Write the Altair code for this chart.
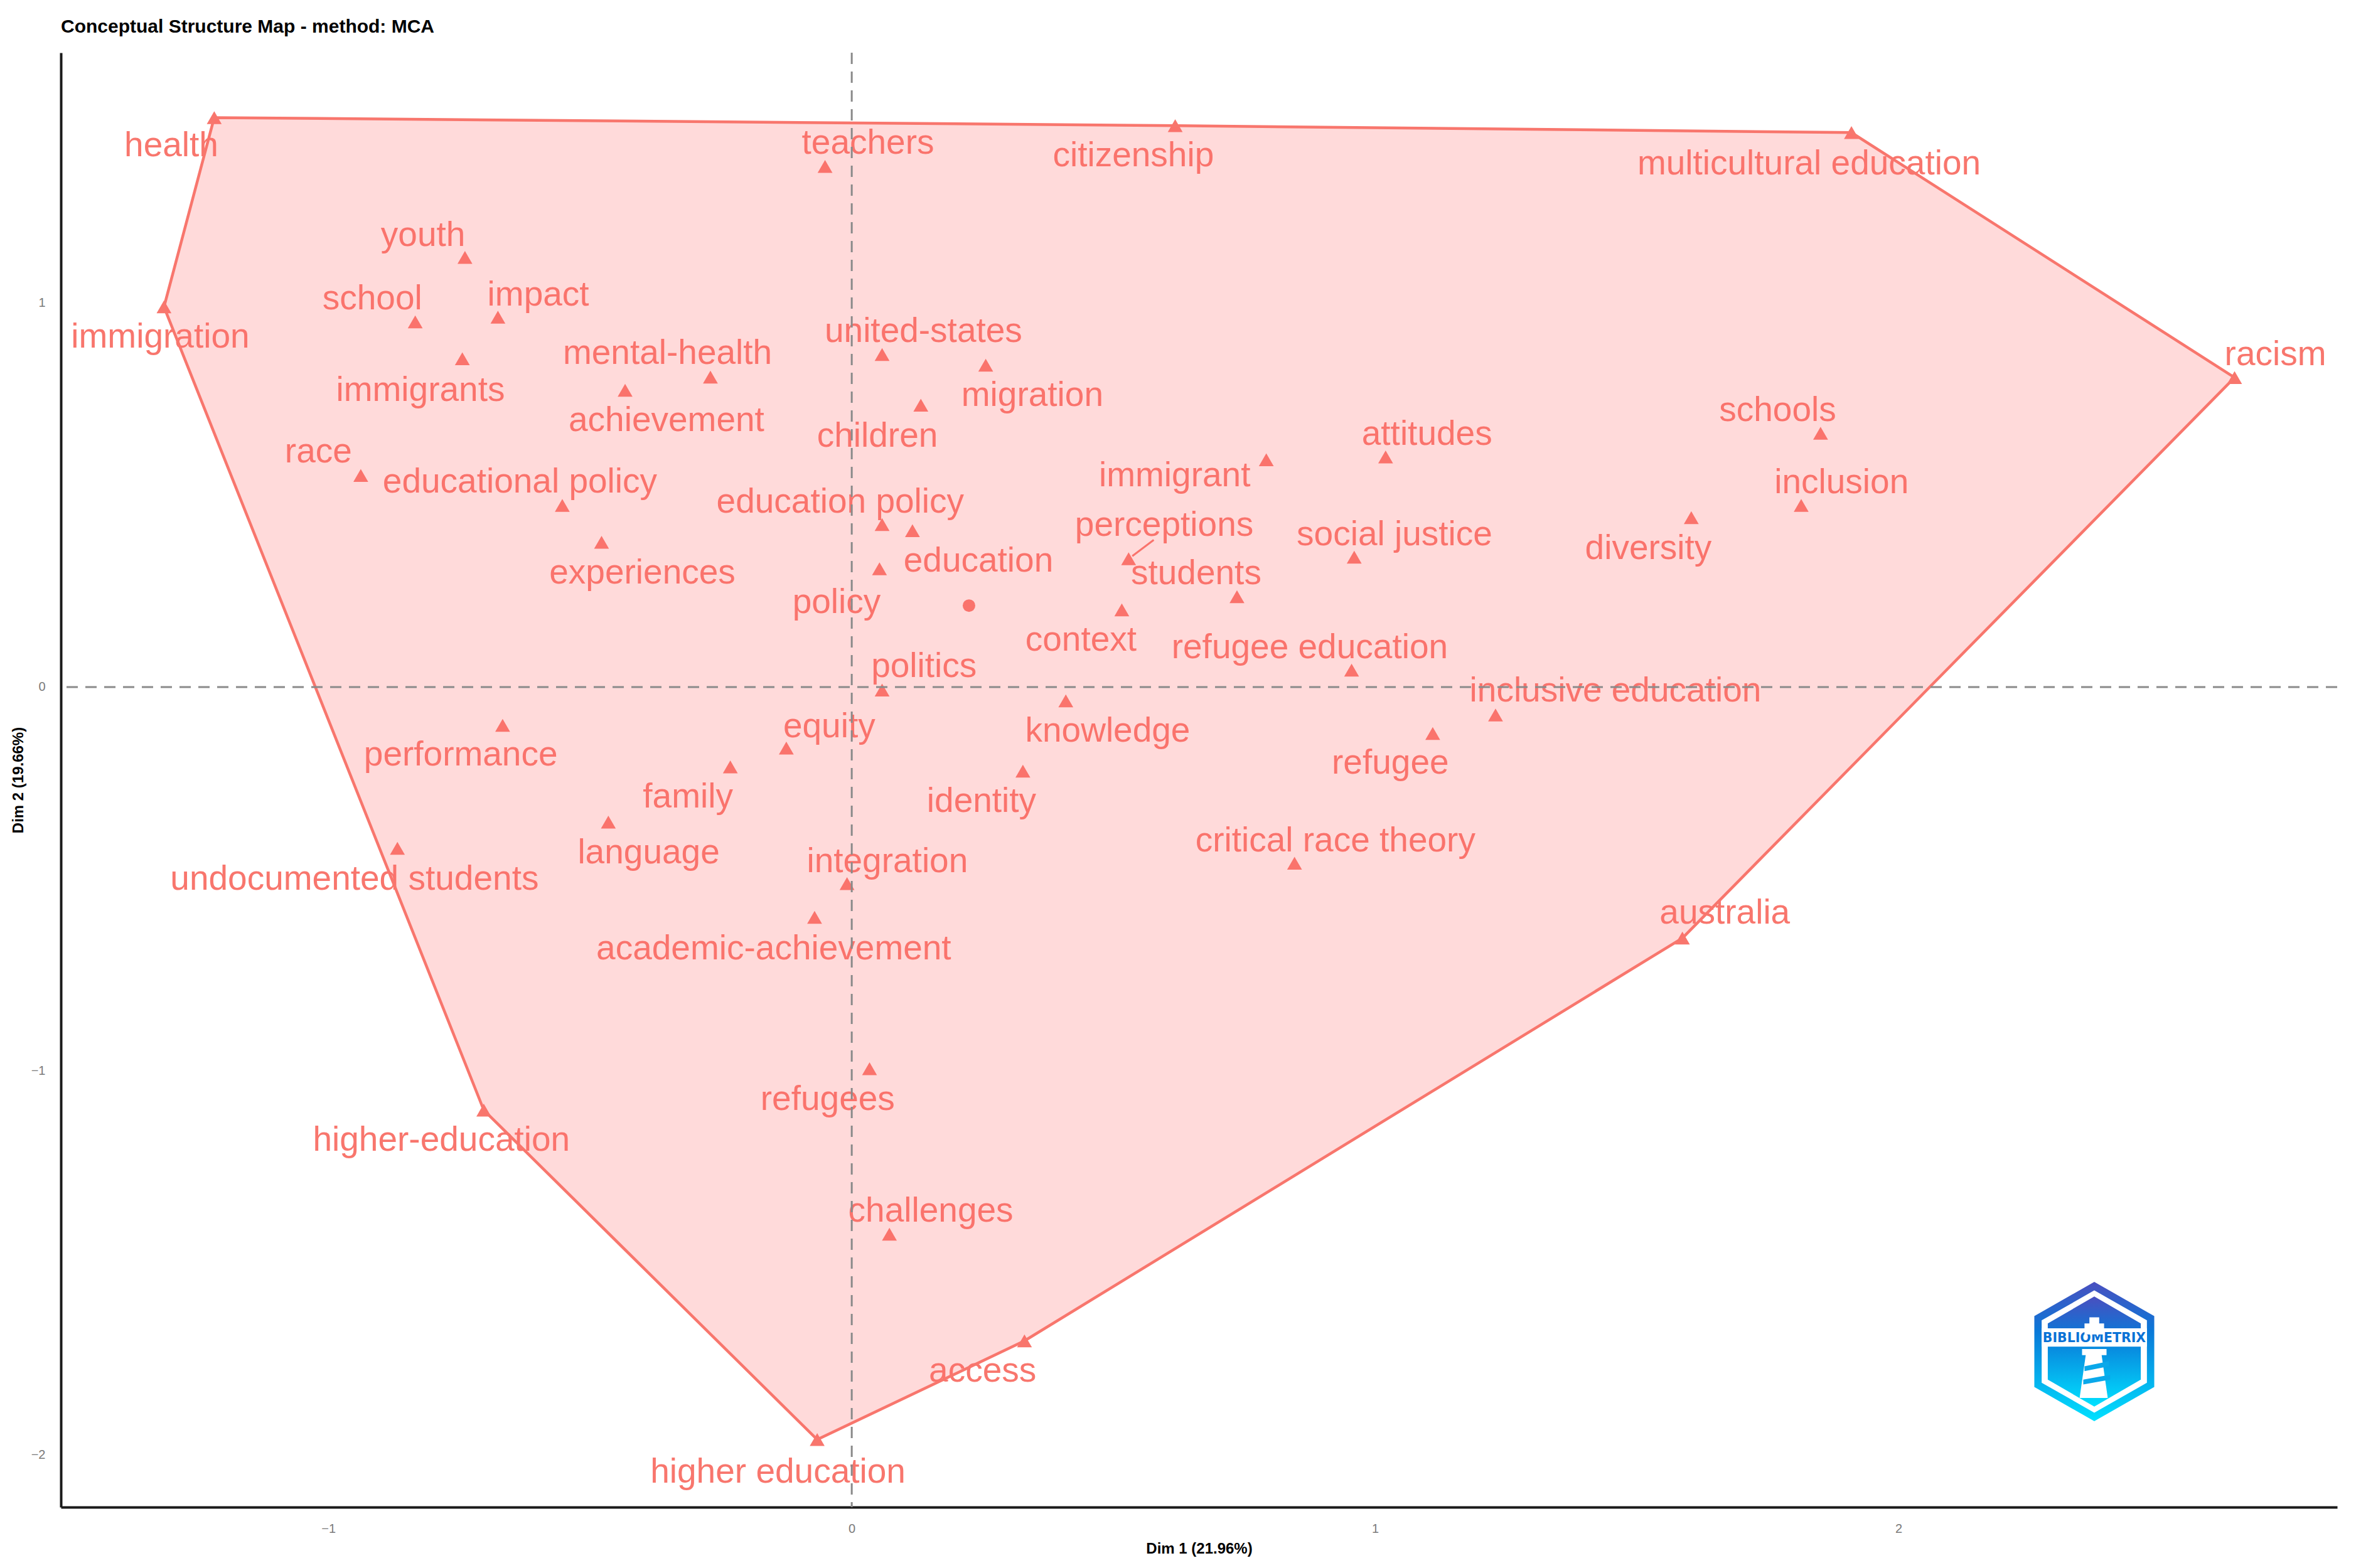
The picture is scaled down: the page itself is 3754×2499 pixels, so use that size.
import base64
import altair as alt
import pandas as pd

# ---------------- data ----------------
terms = [
    "health", "immigration", "youth", "school", "impact", "immigrants",
    "mental-health", "achievement", "race", "educational policy", "experiences",
    "performance", "teachers", "citizenship", "united-states", "migration",
    "children", "immigrant", "attitudes", "education policy", "policy",
    "education", "perceptions", "students", "context", "social justice",
    "refugee education", "politics", "knowledge", "inclusive education",
    "refugee", "identity", "multicultural education", "racism", "schools",
    "inclusion", "diversity", "undocumented students", "language", "family",
    "academic-achievement", "higher-education", "refugees", "higher education",
    "integration", "critical race theory", "challenges", "access", "equity",
    "australia",
]
dim1 = [
    -1.218, -1.314, -0.739, -0.834, -0.676, -0.744,
    -0.270, -0.433, -0.938, -0.553, -0.478,
    -0.667, -0.051, 0.618, 0.058, 0.256,
    0.132, 0.792, 1.020, 0.058, 0.116,
    0.053, 0.529, 0.736, 0.516, 0.960,
    0.955, 0.058, 0.409, 1.230,
    1.110, 0.327, 1.910, 2.642, 1.851,
    1.814, 1.604, -0.868, -0.465, -0.232,
    -0.071, -0.703, 0.034, -0.066,
    -0.009, 0.846, 0.072, 0.330, -0.125,
    1.587,
]
dim2 = [
    1.483, 0.990, 1.119, 0.951, 0.963, 0.855,
    0.807, 0.773, 0.551, 0.473, 0.377,
    -0.100, 1.356, 1.462, 0.866, 0.838,
    0.734, 0.592, 0.599, 0.423, 0.407,
    0.308, 0.334, 0.235, 0.201, 0.338,
    0.044, -0.008, -0.036, -0.073,
    -0.121, -0.219, 1.444, 0.806, 0.661,
    0.473, 0.441, -0.420, -0.352, -0.208,
    -0.600, -1.102, -0.994, -1.960,
    -0.512, -0.459, -1.425, -1.703, -0.159,
    -0.654,
]
label_dim1 = [
    -1.300, -1.321, -0.819, -0.916, -0.599, -0.824,
    -0.352, -0.354, -1.019, -0.634, -0.400,
    -0.747, 0.031, 0.538, 0.137, 0.345,
    0.049, 0.617, 1.099, -0.022, -0.029,
    0.242, 0.597, 0.658, 0.438, 1.037,
    0.875, 0.138, 0.489, 1.459,
    1.029, 0.248, 1.829, 2.720, 1.769,
    1.891, 1.522, -0.950, -0.388, -0.313,
    -0.149, -0.784, -0.046, -0.141,
    0.068, 0.924, 0.151, 0.250, -0.043,
    1.668,
]
label_dim2 = [
    1.410, 0.912, 1.177, 1.011, 1.021, 0.773,
    0.869, 0.695, 0.612, 0.534, 0.298,
    -0.176, 1.417, 1.384, 0.927, 0.760,
    0.654, 0.550, 0.658, 0.482, 0.221,
    0.328, 0.421, 0.296, 0.123, 0.397,
    0.102, 0.054, -0.115, -0.010,
    -0.198, -0.298, 1.362, 0.866, 0.721,
    0.533, 0.361, -0.500, -0.432, -0.286,
    -0.682, -1.180, -1.073, -2.045,
    -0.455, -0.401, -1.365, -1.781, -0.103,
    -0.588,
]
hull_terms = [
    "health", "citizenship", "multicultural education", "racism", "australia",
    "access", "higher education", "higher-education", "immigration", "health",
]
centroid_dim1 = [0.224]
centroid_dim2 = [0.212]
# repel segment (label -> point) for "perceptions"
segment_dim1 = [0.577]
segment_dim2 = [0.383]
segment_end_dim1 = [0.536]
segment_end_dim2 = [0.341]

x_ticks = [-1, 0, 1, 2]
y_ticks = [-2, -1, 0, 1]

# ---------------- tables ----------------
pts = pd.DataFrame({"term": terms, "dim1": dim1, "dim2": dim2})
labs = pd.DataFrame({"term": terms, "dim1": label_dim1, "dim2": label_dim2})
pos = {t: (a, b) for t, a, b in zip(terms, dim1, dim2)}
hull = pd.DataFrame({
    "order": list(range(len(hull_terms))),
    "dim1": [pos[t][0] for t in hull_terms],
    "dim2": [pos[t][1] for t in hull_terms],
})
cent = pd.DataFrame({"dim1": centroid_dim1, "dim2": centroid_dim2})
seg = pd.DataFrame({"dim1": segment_dim1, "dim2": segment_dim2,
                    "dim1e": segment_end_dim1, "dim2e": segment_end_dim2})

RED = "#F8766D"
FONT = "Liberation Sans, Arial, Helvetica, sans-serif"

xs = alt.Scale(domain=[-1.511, 2.838], nice=False, zero=False)
ys = alt.Scale(domain=[-2.136, 1.652], nice=False, zero=False)
X = alt.X("dim1:Q", scale=xs, title="Dim 1 (21.96%)",
          axis=alt.Axis(values=x_ticks, format="~d"))
Y = alt.Y("dim2:Q", scale=ys, title="Dim 2 (19.66%)",
          axis=alt.Axis(values=y_ticks, format="~d"))

points = alt.Chart(pts).mark_point(
    shape="triangle-up", filled=True, size=560, color=RED, opacity=1
).encode(x=X, y=Y)

centroid = alt.Chart(cent).mark_circle(size=400, color=RED, opacity=1).encode(x=X, y=Y)

segment = alt.Chart(seg).mark_rule(color=RED, strokeWidth=3).encode(
    x=X, y=Y, x2="dim1e:Q", y2="dim2e:Q"
)

labels = alt.Chart(labs).mark_text(
    font=FONT, fontSize=55, color=RED, align="center", baseline="middle"
).encode(x=X, y=Y, text="term:N")

polygon = alt.Chart(hull).mark_line(
    color=RED, strokeWidth=4.5, fill="#FF6B6B", fillOpacity=0.25
).encode(x=X, y=Y, order="order:Q")

vline = alt.Chart(pd.DataFrame({"dim1": [0]})).mark_rule(
    color="#8a8a8a", strokeWidth=3, strokeDash=[18, 12]
).encode(x=X)
hline = alt.Chart(pd.DataFrame({"dim2": [0]})).mark_rule(
    color="#8a8a8a", strokeWidth=3, strokeDash=[18, 12]
).encode(y=Y)

# bibliometrix badge (decoration)
logo_svg = """<svg xmlns='http://www.w3.org/2000/svg' viewBox='0 0 200 232'>
<defs><linearGradient id='g' x1='0' y1='0' x2='0' y2='1'>
<stop offset='0' stop-color='#4a4fbf'/><stop offset='0.35' stop-color='#0a78d8'/>
<stop offset='1' stop-color='#00e1ff'/></linearGradient></defs>
<polygon points='100,2 198,58 198,174 100,230 2,174 2,58' fill='url(#g)'/>
<polygon points='100,16 186,65 186,167 100,216 14,167 14,65' fill='white'/>
<polygon points='100,26 176,70 176,162 100,206 24,162 24,70' fill='url(#g)'/>
<rect x='14' y='78' width='172' height='30' fill='white'/>
<text x='100' y='101' font-family='DejaVu Sans' font-weight='bold' font-size='21' text-anchor='middle' fill='#0a72d6'>BIBLIOMETRIX</text>
<path d='M92,60 h16 v10 h8 v18 h-32 v-18 h8 z' fill='white'/>
<path d='M80,112 h40 v10 h-8 l10,70 h-46 l10,-70 h-6 z' fill='white'/>
<path d='M84,140 l40,-8 v8 l-40,8 z M82,162 l44,-8 v8 l-44,8 z' fill='#0aa8ea'/>
</svg>"""
logo_url = "data:image/svg+xml;base64," + base64.b64encode(logo_svg.encode()).decode()
logo = alt.Chart(pd.DataFrame({"k": [0]})).mark_image(
    url=logo_url, width=195, height=226, aspect=False, align="center", baseline="middle"
).encode(x=alt.value(3240), y=alt.value(2070))

chart = alt.layer(
    points, centroid, segment, labels, polygon, vline, hline, logo
).properties(
    width=3627,
    height=2318,
    title=alt.TitleParams(
        "Conceptual Structure Map - method: MCA",
        anchor="start", frame="group", font=FONT, fontSize=30,
        fontWeight="bold", color="#000000", offset=25,
    ),
    padding={"left": 89, "top": 76, "right": 20, "bottom": 80},
    autosize=alt.AutoSizeParams(type="none"),
).configure_view(
    stroke=None
).configure_axis(
    grid=False, ticks=False, domain=True, domainColor="#1a1a1a", domainWidth=4,
    labelFont=FONT, labelFontSize=20, labelColor="#7a7a7a",
    titleFont=FONT, titleFontSize=24, titleFontWeight="bold", titleColor="#000000",
).configure_axisX(
    labelPadding=24, titlePadding=10
).configure_axisY(
    labelPadding=25, titlePadding=8
)

chart.save("out.html", embed_options={"renderer": "svg", "actions": False})
